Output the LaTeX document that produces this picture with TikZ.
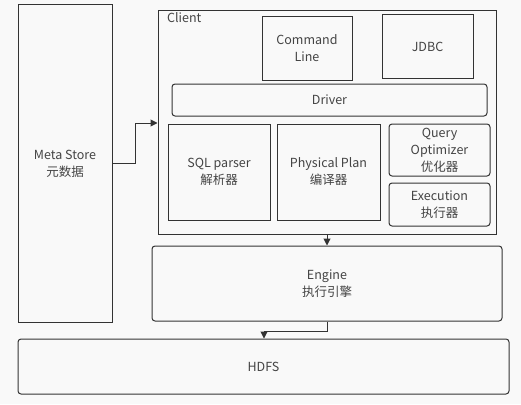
\documentclass[tikz,border=0pt]{standalone}
\usepackage{fontspec}
\setmainfont{Noto Sans CJK SC}
\usetikzlibrary{arrows.meta}
\definecolor{bg}{HTML}{F9F9F9}
\definecolor{edge}{HTML}{333333}
\definecolor{txt}{HTML}{444444}
\tikzset{
  block/.style={rectangle, draw=edge, line width=1pt, inner sep=0pt, align=center, text=txt, font=\fontsize{12.5}{17}\selectfont},
  rblock/.style={block, rounded corners=3pt},
  flow/.style={draw=edge, line width=1pt, -{Triangle[length=7pt,width=7pt]}}
}
\begin{document}
\begin{tikzpicture}[x=1pt,y=-1pt]

    \fill[bg] (0,0) rectangle (521,404);

    \node(meta)[block, minimum width=94pt, minimum height=317pt] at (65,163.5) {Meta Store\\元数据};
    \node(client)[block, minimum width=338pt, minimum height=223pt] at (327,122.5) {};
    \node(client-label)[anchor=north west, text=txt, font=\fontsize{12.5}{17}\selectfont, inner sep=0pt] at (167,12) {Client};

    \node(cmd)[block, minimum width=90pt, minimum height=63pt] at (307,48.5) {Command\\Line};
    \node(jdbc)[block, minimum width=91pt, minimum height=63pt] at (427.5,46.5) {JDBC};
    \node(driver)[rblock, minimum width=315pt, minimum height=32pt] at (329.5,100) {Driver};

    \node(sql)[block, minimum width=102pt, minimum height=96pt] at (219,172) {SQL parser\\解析器};
    \node(plan)[block, minimum width=103pt, minimum height=96pt] at (328.5,172) {Physical Plan\\编译器};
    \node(opt)[rblock, minimum width=101pt, minimum height=52pt] at (439.5,150) {Query\\Optimizer\\优化器};
    \node(exec)[rblock, minimum width=101pt, minimum height=43pt] at (439.5,204.5) {Execution\\执行器};

    \node(engine)[rblock, minimum width=350pt, minimum height=75pt] at (327,283.5) {Engine\\执行引擎};
    \node(hdfs)[rblock, minimum width=491pt, minimum height=55pt] at (263.5,366.5) {HDFS};

    \coordinate(meta-bend) at (135,123);
    \coordinate(engine-bend) at (264,331);

    \draw[flow] (meta.east) -| (meta-bend) -- (client.west |- meta-bend);
    \draw[flow] (client.south) -- (engine.north);
    \draw[flow] (engine.south) |- (engine-bend) -- (engine-bend |- hdfs.north);
  \end{tikzpicture}
\end{document}
